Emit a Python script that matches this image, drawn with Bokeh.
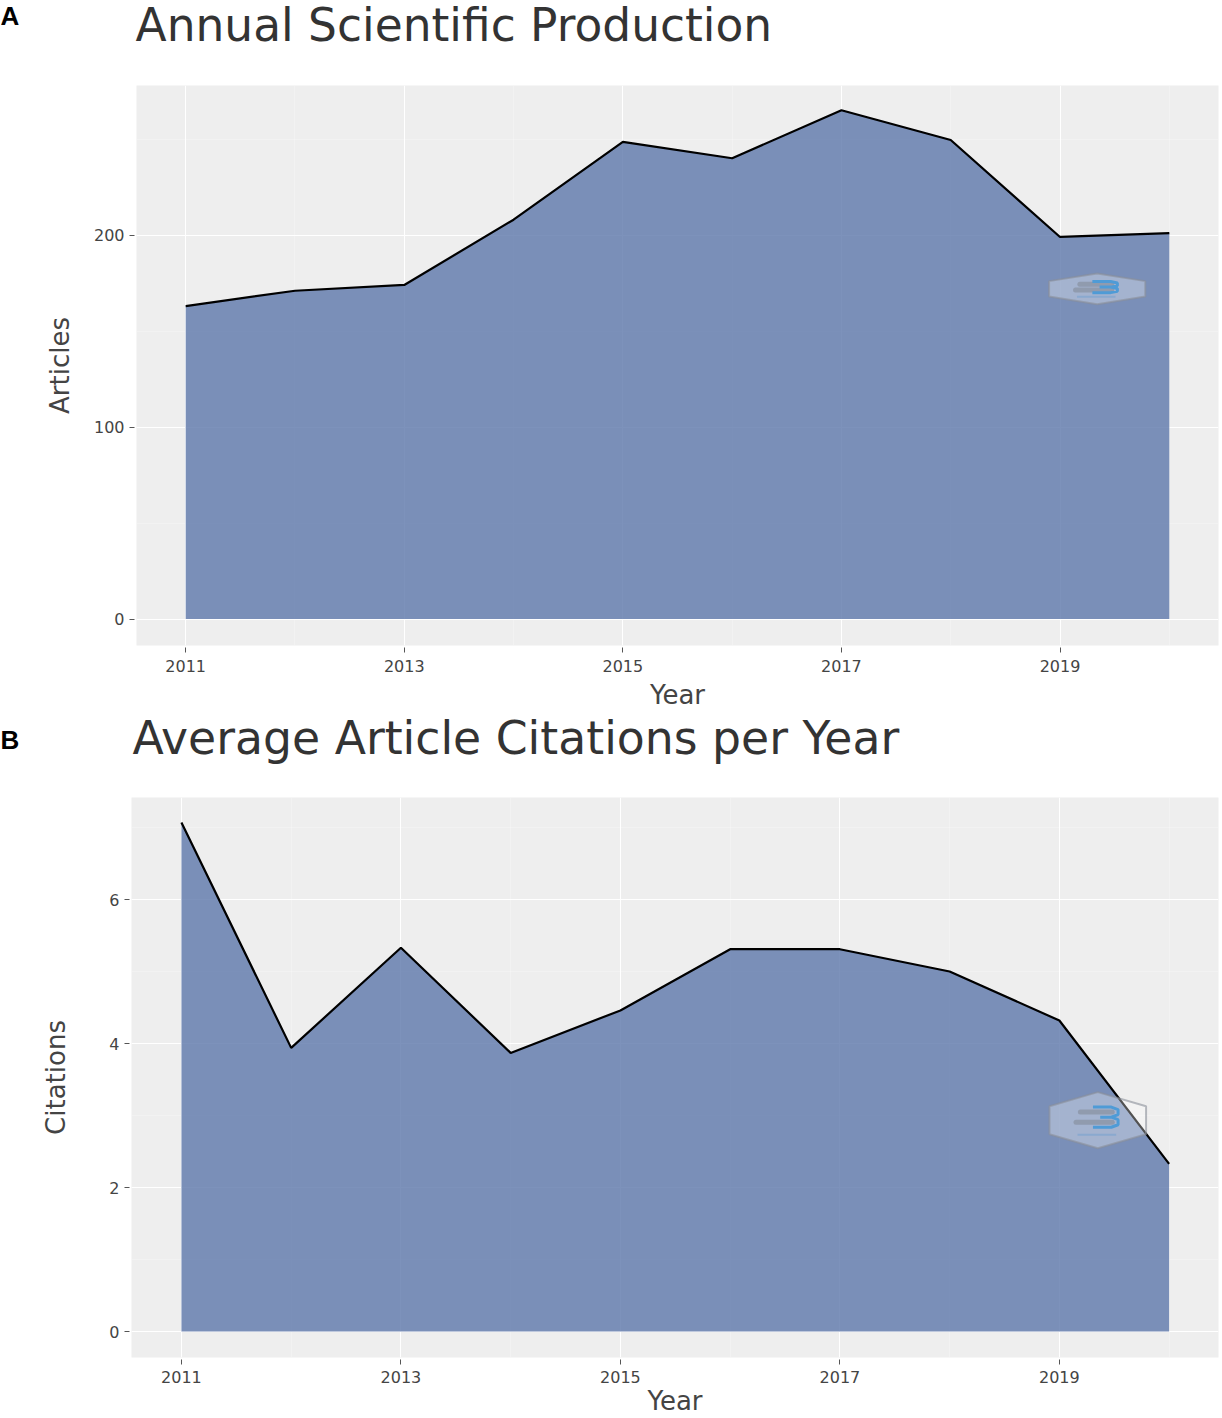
from bokeh.core.properties import value
from bokeh.embed import file_html
from bokeh.layouts import column
from bokeh.models import FixedTicker, Range1d
from bokeh.plotting import figure
from bokeh.resources import INLINE

years = [2011, 2012, 2013, 2014, 2015, 2016, 2017, 2018, 2019, 2020]
articles = [163, 171, 174, 208, 248.5, 240, 265, 249.5, 199, 201]
citations = [7.07, 3.94, 5.33, 3.87, 4.46, 5.31, 5.31, 5.0, 4.32, 2.33]

year_ticks = [2011, 2013, 2015, 2017, 2019]
year_minor = [2012, 2014, 2016, 2018, 2020]
article_ticks = [0, 100, 200]
article_minor = [50, 150, 250]
citation_ticks = [0, 2, 4, 6]
citation_minor = [1, 3, 5, 7]

FONT = "DejaVu Sans"
AREA = "#5d77aa"
WIDTH = 1222


def watermark(p, cx, cy, hw, hh):
    # little logo stamped on the plot, sizes given in data units
    hex_x = [-1, 0, 1, 1, 0, -1]
    hex_y = [0.5, 1, 0.5, -0.5, -1, -0.5]
    p.patch([cx + a * hw for a in hex_x], [cy + b * hh for b in hex_y],
            fill_color="white", fill_alpha=0.32, line_color="#8a8f99", line_alpha=0.6, line_width=2)
    for bar_x, bar_y in (([-0.36, 0.3], 0.29), ([-0.45, 0.3], -0.07)):
        p.line([cx + a * hw for a in bar_x], [cy + bar_y * hh] * 2, line_color="#7f8794", line_width=5,
               line_alpha=0.55, line_cap="round")
    blue_x = [-0.1, 0.28, 0.42, 0.42, 0.28, 0.05, 0.28, 0.42, 0.42, 0.28, -0.1]
    blue_y = [0.47, 0.47, 0.38, 0.2, 0.11, 0.11, 0.11, 0.02, -0.16, -0.25, -0.25]
    p.line([cx + a * hw for a in blue_x], [cy + b * hh for b in blue_y], line_color="#4f9bd6", line_width=3)
    p.line([cx - 0.42 * hw, cx + 0.38 * hw], [cy - 0.52 * hh] * 2, line_color="#6f9fd0", line_width=2, line_alpha=0.5)


def make_header(letter, title, title_x, title_y, title_size, letter_y, height):
    # strip above each chart holding its title and panel letter, y runs down in pixels
    p = figure(width=WIDTH, height=height, output_backend="svg", toolbar_location=None,
               x_range=Range1d(0, WIDTH), y_range=Range1d(height, 0), frame_align=False,
               min_border=0, outline_line_color=None, x_axis_type=None, y_axis_type=None)
    p.grid.visible = False
    p.text([title_x], [title_y], text=[title], text_font=value(FONT), text_font_size=title_size,
           text_color="#333333", text_baseline="middle")
    p.text([0], [letter_y], text=[letter], text_font=value("Liberation Sans"), text_font_size="26px",
           text_font_style="bold", text_color="black", text_baseline="middle")
    return p


def make_panel(ylabel, values, yticks, yminor, xr, yr, height, left, bottom, label_standoff, tick_gap, year_gap, mark):
    p = figure(width=WIDTH, height=height, output_backend="svg", toolbar_location=None,
               x_range=Range1d(*xr), y_range=Range1d(*yr), frame_align=False,
               min_border_left=left, min_border_right=4, min_border_top=0, min_border_bottom=bottom,
               background_fill_color="#eeeeee", outline_line_color=None)

    p.xaxis.ticker = FixedTicker(ticks=year_ticks, minor_ticks=year_minor)
    p.yaxis.ticker = FixedTicker(ticks=yticks, minor_ticks=yminor)
    p.xaxis.axis_label = "Year"
    p.yaxis.axis_label = ylabel
    for ax in (p.xaxis[0], p.yaxis[0]):
        ax.axis_line_color = None
        ax.major_tick_in = -2
        ax.major_tick_out = 7
        ax.major_tick_line_color = "#555555"
        ax.minor_tick_line_color = None
        ax.major_label_text_font = FONT
        ax.major_label_text_font_size = "16px"
        ax.major_label_text_color = "#444444"
        ax.axis_label_text_font = FONT
        ax.axis_label_text_font_size = "26px"
        ax.axis_label_text_font_style = "normal"
        ax.axis_label_text_color = "#444444"
    p.xaxis.major_label_standoff = tick_gap
    p.xaxis.axis_label_standoff = year_gap
    p.yaxis.major_label_standoff = 5
    p.yaxis.axis_label_standoff = label_standoff

    for grid in (p.xgrid[0], p.ygrid[0]):
        grid.grid_line_color = "white"
        grid.grid_line_width = 1
        grid.minor_grid_line_color = "white"
        grid.minor_grid_line_alpha = 0.25

    p.varea(years, y1=[0] * len(years), y2=values, fill_color=AREA, fill_alpha=0.8)
    p.line(years, values, line_color="black", line_width=2.2)
    watermark(p, *mark)
    return p


head_a = make_header("A", "Annual Scientific Production", 135, 25, "45.5px", 15, 85)
a = make_panel("Articles", articles, article_ticks, article_minor,
               (2010.55, 2020.45), (-13.8, 277.9), 627, 136, 67, 16, 7, 5, (2019.34, 172, 0.44, 8))
head_b = make_header("B", "Average Article Citations per Year", 132, 26, "45.7px", 27, 85)
b = make_panel("Citations", citations, citation_ticks, citation_minor,
               (2010.545, 2020.45), (-0.36, 7.417), 621, 131, 61, 35, 6, 0, (2019.35, 2.935, 0.44, 0.39))

page = column(head_a, a, head_b, b, spacing=0)
open("out.html", "w").write(file_html(page, INLINE))
